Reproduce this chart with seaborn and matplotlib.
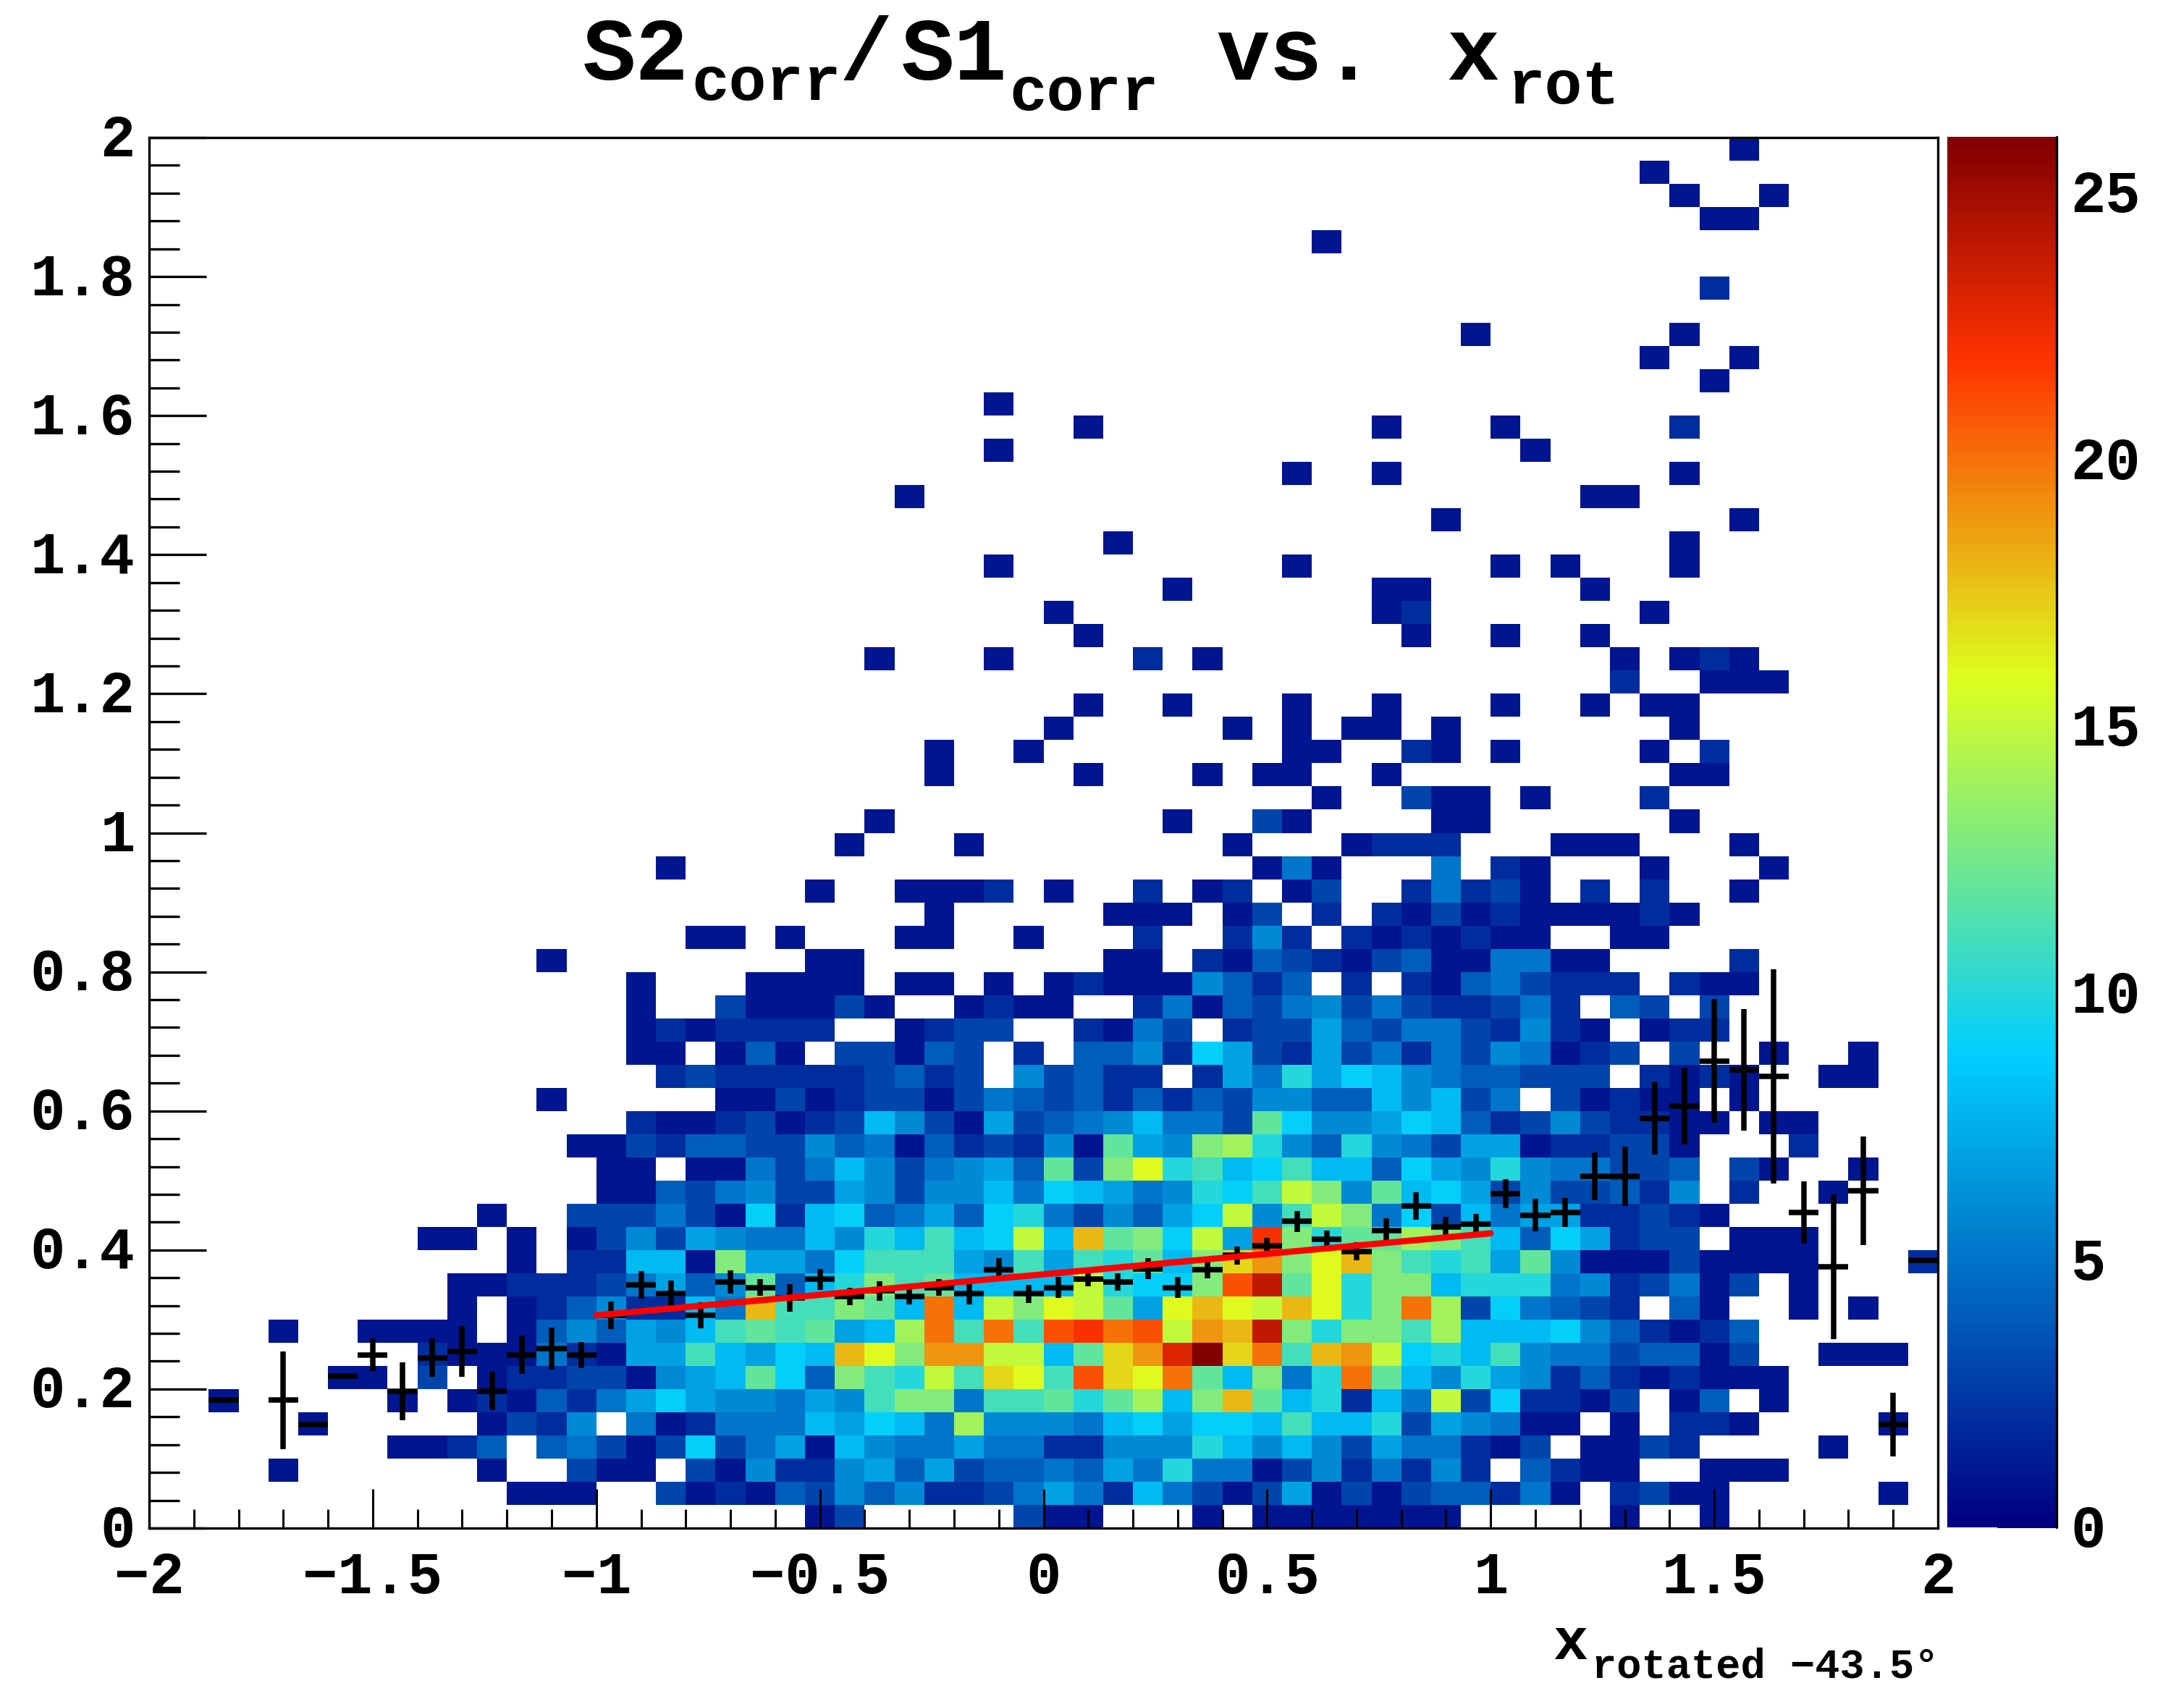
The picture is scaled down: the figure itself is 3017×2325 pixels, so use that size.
import numpy as np
import pandas as pd
import seaborn as sns
import matplotlib.pyplot as plt
from matplotlib.colors import LinearSegmentedColormap
from matplotlib.ticker import MultipleLocator
from matplotlib.transforms import ScaledTranslation

# counts per bin, one string per row (top row first), 0-9 then a=10 ... q=26, '.' = empty
counts_top = [
    "...................." "...................." ".............1......",
    "...................." "...................." "..........1.........",
    "...................." "...................." "...........1..1.....",
    "...................." "...................." "............11......",
    "...................." "...................1" "....................",
    "...................." "...................." "....................",
    "...................." "...................." "............2.......",
    "...................." "...................." "....................",
    "...................." "...................." "....1......1........",
    "...................." "...................." "..........1..1......",
    "...................." "...................." "............1.......",
    "...................." "........1..........." "....................",
    "...................." "...........1........" ".1...1.....2........",
    "...................." "........1..........." "......1.............",
    "...................." "..................1." ".1.........1........",
    "...................." ".....1.............." "........11..........",
    "...................." "...................." "...1.........1......",
    "...................." "............1......." "...........1........",
    "...................." "........1.........1." ".....1.1...1........",
    "...................." "..............1....." ".11.....1...........",
]
counts_middle = [
    "...................." "..........1........." ".12.......1.........",
    "...................." "...........1........" "..1..1..1...........",
    "...................." "....1...1....2.1...." ".........1.121......",
    "...................." "...................." ".........2..111.....",
    "...................." "...........1..1...1." ".1...1..1.11........",
    "...................." "..........1.....1.1." "11.1.......1........",
    "...................." "......1..1........11" "..21.1....1.2.......",
    "...................." "......1....1...1.11." ".1.........11.......",
    "...................." "...................1" "..311.1...2.........",
    "...................." "....1.........1..31." "...11......1........",
    "...................." "...1...1........1..." "1222...111...1......",
    ".................1.." ".................151" "...5.21...1...1.....",
    "...................." "..1..1112.1..2.12.13" "..25231.2.2..1......",
    "...................." "......1.....111.13.2" ".21312111121........",
    "..................11" ".1...11..1...2..262." "2121211..11.........",
    ".............1......" "..11........11.21432" "134115511....2......",
    "................1..." "1111.11.1.121116424." "2.21453222.211......",
    "................1..3" "11131..1211..2514356" "35322352.43.3.......",
    "................1212" "222..1233..2153.2337" "435532621.122.......",
    "................11.1" "41.33143.2.446297327" "3525365123.3..1..1..",
]
counts_bottom = [
    ".................232" "22223423.63422.275a7" "986544333.2121..11..",
    ".............1.....1" "13123313543424243664" "486835.31211.1......",
    "................2112" "31238631734568553c96" "6798423632211.11....",
    "..............113244" "336451423261c76dea64" "a65377122331...2....",
    "...............11.11" "5358635674c3dgab89b8" "84976a655334.31..1..",
    "...............11435" "633763668598756a9bfd" "6c8973633426.2..1...",
    "...........1..333531" "928945749a536479f6bf" "d593857722321.......",
    ".........11.1.136376" "5586a8b89f8icd9f7mda" "ccedb8497233.111....",
    "............1.22881d" "7759bbb76b7bac8dhjdg" "idbab7c611131111...2",
    "..........1122235746" "c48adbc8888fa99dlocg" "add8aaa5623513.1....",
    "..........1.12462285" "ibbdc8k8fdgfc7gigfig" "adke395432.41..1.1..",
    "....1..1111.1464768b" "cbc78ekbkblmklfjioda" "ddbe8889642124......",
    ".........211152177b8" "798igdjjff8chjnqhkbi" "jf9a8b65534413..111.",
    "......11.3.122331678" "c94dbafbhgblhgkc8d5a" "kc86a7624212111.....",
    "..1.....1.1214257976" "6576bdd5bbcace8dic8a" "285f392213.14.1.....",
    ".....1.....1326.5125" "5587985e6665897998b8" "8a376511.1.221....1.",
    "........1124.4531393" "571865575522666a8686" "3755213.1132....1...",
    "....1......1..311.31" "62267473445475a55136" "25262.4211..111.....",
    "............111..312" "14364622357528531371" "31344251.2311.....1.",
    "...................." "..13.....311...1.111" "1111.....1..1.......",
]

# profile means and errors per column (nan = empty column)
nan = float("nan")
profile_mean = [
    nan, nan, .184, nan, .184, .149, .219, .249, .197, .245,
    .254, .197, .249, .258, .249, .306, .350, .337, .306, .354,
    .346, .331, .358, .333, .341, .333, .346, .337, .372, .337,
    .346, .358, .354, .373, .346, .372, .392, .406, .441, .415,
    .398, .428, .463, .433, .437, .481, .450, .454, .506, .506,
    .589, .607, .672, .659, .650, .454, .376, .485, .149, .385,
]
profile_err = [
    0, 0, 0, 0, .070, 0, 0, .0234, .0417, .0276,
    .036, .0276, .0276, .030, .019, .0196, .0196, .019, .019, .017,
    .0123, .0196, .015, .0128, .0145, .011, .0123, .015, .016, .0128,
    .015, .0106, .012, .015, .015, .0128, .0128, .0115, .015, .0128,
    .0128, .0174, .0196, .015, .015, .021, .0234, .021, .0344, .043,
    .052, .055, .089, .087, .154, .045, .104, .078, .0455, 0,
]

fit_x = [-1.0, 1.0]
fit_y = [.306, .424]

x_ticks = [-2, -1.5, -1, -0.5, 0, 0.5, 1, 1.5, 2]
x_tick_labels = ["−2", "−1.5", "−1", "−0.5", "0", "0.5", "1", "1.5", "2"]
y_ticks = [0, 0.2, 0.4, 0.6, 0.8, 1, 1.2, 1.4, 1.6, 1.8, 2]
y_tick_labels = ["0", "0.2", "0.4", "0.6", "0.8", "1", "1.2", "1.4", "1.6", "1.8", "2"]
cbar_ticks = [0, 5, 10, 15, 20, 25]
cbar_max = 26.05

# ROOT gradient palette
palette_stops = [0.00, 0.34, 0.61, 0.84, 1.00]
palette_red = [0.00, 0.00, 0.87, 1.00, 0.51]
palette_green = [0.00, 0.81, 1.00, 0.20, 0.00]
palette_blue = [0.51, 1.00, 0.12, 0.00, 0.00]

WIDTH, HEIGHT = 3017, 2325
FONT = "Liberation Mono"


def fig_x(px):
    return px / WIDTH


def fig_y(px):
    return 1 - px / HEIGHT


def add_text(fig, px, py, text, size):
    fig.text(fig_x(px), fig_y(py), text, fontsize=size, fontweight="bold",
             family=FONT, color="black", ha="left", va="baseline")


def bold_labels(labels, fig, dy_px=0):
    # labels sit a little high in the reference
    offset = ScaledTranslation(0, dy_px / 100, fig.dpi_scale_trans)
    for label in labels:
        label.set_fontweight("bold")
        label.set_color("black")
        label.set_transform(label.get_transform() + offset)


sns.set_theme(style="white")
plt.rcParams["font.family"] = [FONT, "DejaVu Sans"]

rows = counts_top + counts_middle + counts_bottom
grid = np.array([[0 if c == "." else int(c, 36) for c in row] for row in rows])[::-1]

n_y, n_x = grid.shape
x_edges = np.linspace(-2, 2, n_x + 1)
y_edges = np.linspace(0, 2, n_y + 1)
x_centers = (x_edges[:-1] + x_edges[1:]) / 2
y_centers = (y_edges[:-1] + y_edges[1:]) / 2
xx, yy = np.meshgrid(x_centers, y_centers)
hist = pd.DataFrame({"x": xx.ravel(), "y": yy.ravel(), "n": grid.ravel()})
hist = hist[hist["n"] > 0]

cmap = LinearSegmentedColormap.from_list(
    "root_rainbow", list(zip(palette_stops, zip(palette_red, palette_green, palette_blue))), N=256)

fig = plt.figure(figsize=(WIDTH / 100, HEIGHT / 100), dpi=100)
ax = fig.add_axes([fig_x(206), fig_y(2111), (2677 - 206) / WIDTH, (2111 - 190) / HEIGHT])
cax = fig.add_axes([fig_x(2690), fig_y(2110), (2841 - 2690) / WIDTH, (2110 - 189) / HEIGHT])

sns.histplot(data=hist, x="x", y="y", weights="n", bins=(n_x, n_y),
             binrange=((-2, 2), (0, 2)), cmap=cmap, vmin=0, vmax=cbar_max,
             cbar=True, cbar_ax=cax, ax=ax)

ax.errorbar(x_centers, profile_mean, xerr=(x_edges[1] - x_edges[0]) / 2, yerr=profile_err,
            fmt="none", ecolor="black", elinewidth=5.4, zorder=4)
sns.lineplot(x=fit_x, y=fit_y, color="#ff0000", linewidth=6.2, ax=ax, zorder=5)

ax.set_xlim(-2, 2)
ax.set_ylim(0, 2)
ax.set_xlabel("")
ax.set_ylabel("")
ax.set_axisbelow(False)
ax.set_xticks(x_ticks, x_tick_labels)
ax.set_yticks(y_ticks, y_tick_labels)
ax.xaxis.set_minor_locator(MultipleLocator(0.1))
ax.yaxis.set_minor_locator(MultipleLocator(0.04))
ax.tick_params(axis="x", which="major", direction="in", length=39, width=2.2, pad=22,
               labelsize=58, bottom=True, color="black")
ax.tick_params(axis="x", which="minor", direction="in", length=19, width=2.2, bottom=True, color="black")
ax.tick_params(axis="y", which="major", direction="in", length=57, width=2.4, pad=14,
               labelsize=58, left=True, color="black")
ax.tick_params(axis="y", which="minor", direction="in", length=30, width=2.4, left=True, color="black")
bold_labels(ax.get_xticklabels(), fig)
bold_labels(ax.get_yticklabels(), fig, dy_px=4)
for spine in ax.spines.values():
    spine.set_visible(True)
    spine.set_color("black")
    spine.set_linewidth(2.4)

cax.set_ylim(0, cbar_max)
cax.set_yticks(cbar_ticks, [str(t) for t in cbar_ticks])
cax.yaxis.set_ticks_position("right")
cax.tick_params(axis="y", which="major", direction="in", length=59, width=1.5, pad=14,
                labelsize=58, right=True, color="black")
bold_labels(cax.get_yticklabels(), fig, dy_px=3)
for spine in cax.spines.values():
    spine.set_visible(False)
ax.collections[0].colorbar.outline.set_visible(False)
cax.axvline(1, color="black", linewidth=2.4, clip_on=False)

# title and x label are pieced together, each part with its own baseline
add_text(fig, 805, 110, "S2", 88)
add_text(fig, 955, 138, "corr", 62)
add_text(fig, 1160, 110, "/", 88)
add_text(fig, 1245, 110, "S1", 88)
add_text(fig, 1394, 152, "corr", 62)
add_text(fig, 1680, 110, "vs.", 88)
add_text(fig, 1998, 110, "x", 88)
add_text(fig, 2083, 143, "rot", 62)
add_text(fig, 2145, 2292, "x", 58)
add_text(fig, 2199, 2318, "rotated −43.5°", 41)

fig.savefig("out.png", dpi=100)
plt.close(fig)
